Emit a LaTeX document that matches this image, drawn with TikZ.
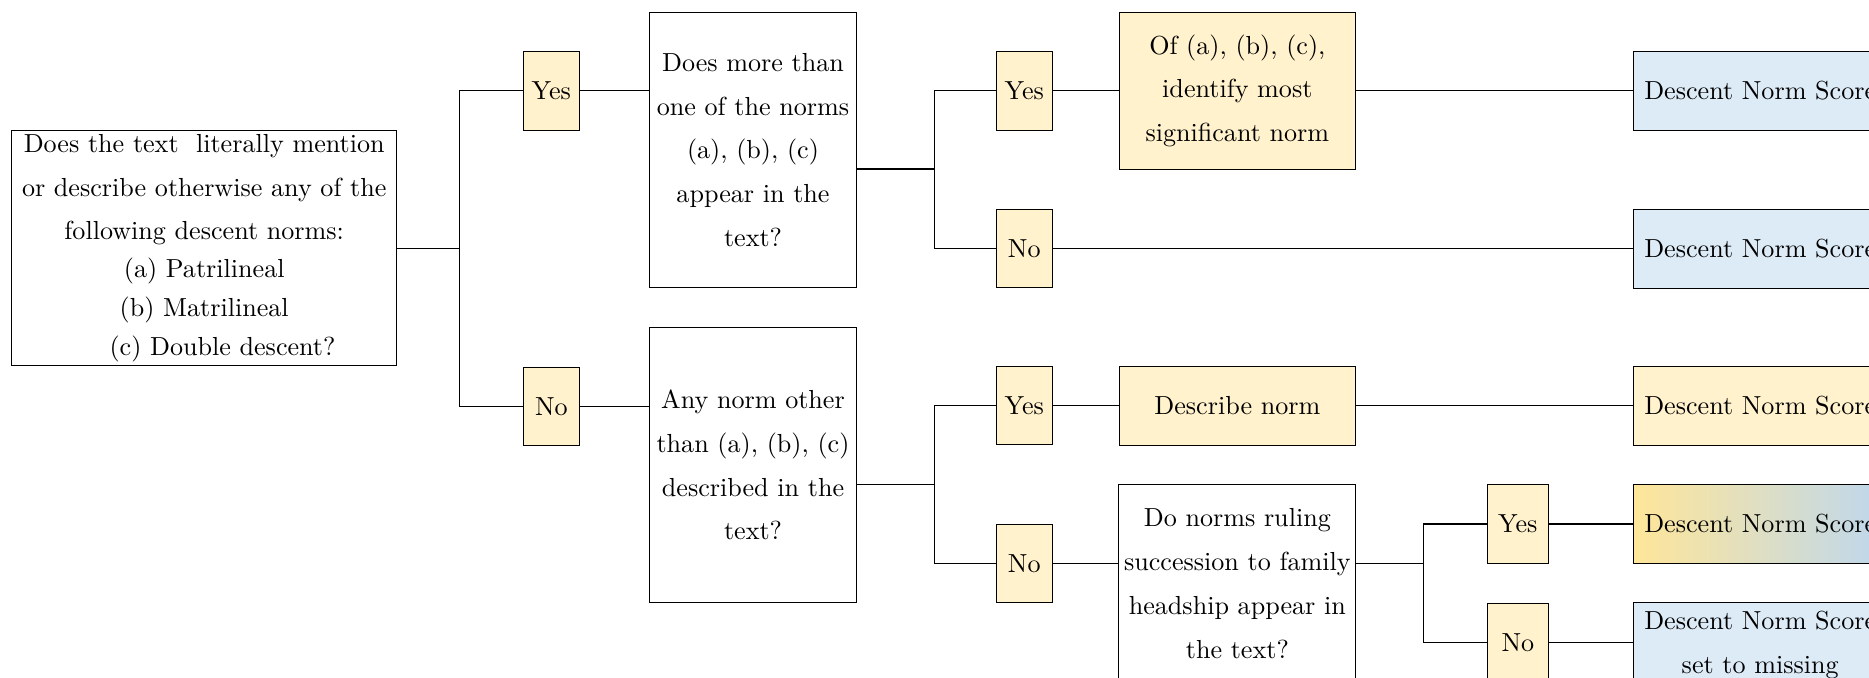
\documentclass[tikz,border=0pt]{standalone}
\usepackage{tikz}
\usepackage{xcolor}
\definecolor{answerYellow}{RGB}{255, 242, 204}
\definecolor{scoreBlue}{RGB}{221, 235, 247}
\definecolor{gradYellow}{RGB}{255, 230, 153}
\definecolor{gradBlue}{RGB}{189, 215, 238}
\tikzset{
  question/.style={draw, align=center, inner xsep=2pt, font=\linespread{1.4}\selectfont},
  answer/.style={draw, fill=answerYellow, inner xsep=1pt, minimum width=0.754cm, minimum height=1.054cm},
  score/.style={draw, fill=scoreBlue, align=center, inner xsep=2pt, minimum width=3.416cm, minimum height=1.058cm, font=\linespread{1.4}\selectfont}
}

\begin{document}
\begin{tikzpicture}
\useasboundingbox (0,0) rectangle (25.168,-9.130);
\node[question, font=\linespread{1.2}\selectfont, inner ysep=1pt, minimum width=5.184cm, minimum height=3.165cm] (q1) at (2.750,-3.342) {Does the text\ \ literally mention\\[2.4pt] or describe otherwise any of the\\[2.4pt] following descent norms:\\ (a) Patrilineal\\[0.6pt] (b) Matrilineal\\[0.6pt] \hspace*{14pt}(c) Double descent?};
\node[answer] (y1) at (7.424,-1.225) {Yes};
\node[answer] (n1) at (7.424,-5.474) {No};
\node[question, minimum width=2.793cm, minimum height=3.698cm] (q2) at (10.140,-2.020) {Does more than\\ one of the norms\\ (a), (b), (c)\\ appear in the\\ text?};
\node[question, minimum width=2.793cm, minimum height=3.698cm] (q3) at (10.140,-6.262) {Any norm other\\ than (a), (b), (c)\\ described in the\\ text?};
\node[answer] (y2) at (13.793,-1.225) {Yes};
\node[answer] (n2) at (13.793,-3.344) {No};
\node[answer] (y3) at (13.793,-5.465) {Yes};
\node[answer] (n3) at (13.793,-7.585) {No};
\node[question, fill=answerYellow, minimum width=3.178cm, minimum height=2.105cm] (a1) at (16.662,-1.224) {Of (a), (b), (c),\\ identify most\\ significant norm};
\node[question, fill=answerYellow, minimum width=3.178cm, minimum height=1.064cm] (a2) at (16.662,-5.465) {Describe norm};
\node[question, minimum width=3.178cm, minimum height=2.666cm] (q4) at (16.662,-7.855) {Do norms ruling\\ succession to family\\ headship appear in\\ the text?};
\node[answer, minimum width=0.821cm] (y4) at (20.439,-7.056) {Yes};
\node[answer, minimum width=0.821cm] (n4) at (20.439,-8.649) {No};
\node[score] (s1) at (23.703,-1.225) {Descent Norm Score};
\node[score] (s2) at (23.703,-3.350) {Descent Norm Score};
\node[score, fill=answerYellow] (s3) at (23.703,-5.467) {Descent Norm Score};
\node[score, left color=gradYellow, right color=gradBlue] (s4) at (23.703,-7.056) {Descent Norm Score};
\node[score, minimum height=1.077cm] (s5) at (23.703,-8.690) {Descent Norm Score\\ set to missing};
\coordinate (f1) at (6.188,-3.342);
\coordinate (f2) at (12.581,-2.276);
\coordinate (f3) at (12.581,-6.524);
\coordinate (f4) at (19.166,-7.585);
\draw (q1.east) -- (f1) |- (y1.west);
\draw (f1) |- (n1.west);
\draw (f2 -| q2.east) -- (f2) |- (y2.west);
\draw (f2) |- (n2.west);
\draw (f3 -| q3.east) -- (f3) |- (y3.west);
\draw (f3) |- (n3.west);
\draw (f4 -| q4.east) -- (f4) |- (y4.west);
\draw (f4) |- (n4.west);
\foreach \a/\b in {y1/q2, n1/q3, y2/a1, a1/s1, n2/s2, y3/a2, a2/s3, n3/q4, y4/s4}
  \draw (\a.east) -- (\a.east -| \b.west);
\draw (n4.east) -- (n4.east -| s5.west);
\end{tikzpicture}
\end{document}
